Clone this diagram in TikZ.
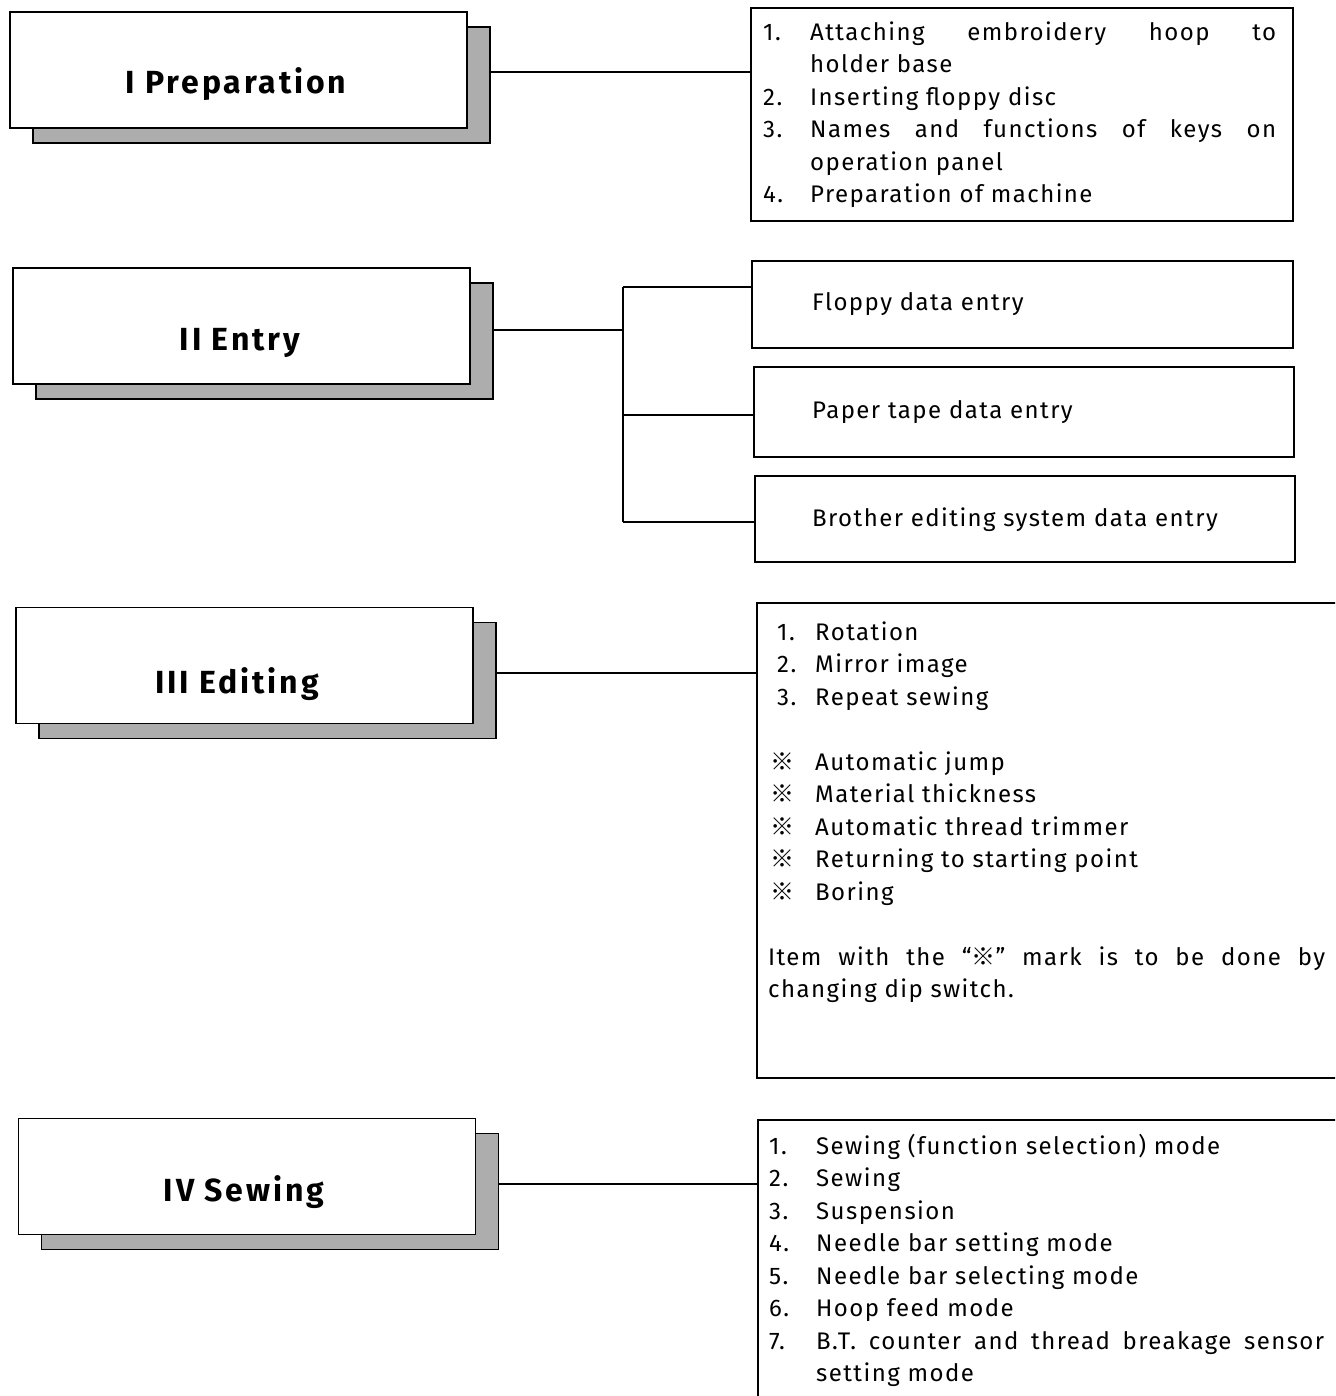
\documentclass[tikz,border=0pt]{standalone}
\usepackage{fontspec}
\setmainfont{Fira Sans}[LetterSpace=6]
\newfontfamily\titlefont{Fira Sans}[LetterSpace=9]
\newfontfamily\refmark{Noto Sans CJK JP}
\usetikzlibrary{shadows}
\begin{document}
\begin{tikzpicture}[x=1pt,y=-1pt,
  titlebox/.style={draw, fill=white, line width=1.6pt, inner sep=0,
    minimum width=457pt, minimum height=116pt,
    drop shadow={shadow xshift=23pt, shadow yshift=-15pt, fill=black!32,
      draw=black, line width=1.2pt, opacity=1}},
  titletext/.style={inner sep=0, anchor=base, font=\titlefont\fontsize{32}{38}\selectfont\bfseries},
  rbox/.style={draw, line width=1.6pt, inner sep=0},
  openbox/.style={inner sep=0},
  listtext/.style={inner sep=0, anchor=north west, align=left,
    font=\fontsize{24}{32.5}\selectfont},
  onetext/.style={inner sep=0, anchor=base west, font=\fontsize{24}{28}\selectfont},
  conn/.style={line width=1.3pt}]
\useasboundingbox (0,0) rectangle (1335,1396);
\clip (0,0) rectangle (1335,1396);

% right-hand boxes
\node[rbox, minimum width=542pt, minimum height=213pt] (r1) at (1022,114.5) {};
\node[rbox, minimum width=541pt, minimum height=87pt] (r2) at (1022.5,304.5) {};
\node[rbox, minimum width=540pt, minimum height=90pt] (r3) at (1024,412) {};
\node[rbox, minimum width=540pt, minimum height=86pt] (r4) at (1025,519) {};
\node[openbox, minimum width=590pt, minimum height=475pt] (r5) at (1052,840.5) {};
\draw[line width=1.6pt] (r5.north east) -- (r5.north west) -- (r5.south west) -- (r5.south east);
\node[openbox, minimum width=590pt, minimum height=290pt] (r6) at (1053,1265) {};
\draw[line width=1.6pt] (r6.north east) -- (r6.north west) -- (r6.south west);

% title boxes
\node[titlebox] (t1) at (238.5,70) {};
\node[titlebox] (t2) at (241.5,326) {};
\node[titlebox] (t3) at (244.5,665.5) {};
\node[titlebox] (t4) at (247,1176.5) {};
\node[titletext] (t1l) at (236,94) {I Preparation};
\node[titletext] (t2l) at (240,350.5) {II Entry};
\node[titletext] (t3l) at (237,693.5) {III Editing};
\node[titletext] (t4l) at (244,1201.5) {IV Sewing};

% connectors
\draw[conn] ([xshift=23pt,yshift=-2pt]t1.east) -- ([yshift=-2pt]t1.east -| r1.west);
\coordinate (ja) at (623,287);
\coordinate (jb) at (623,415);
\coordinate (jc) at (623,522);
\coordinate (jm) at (623,330);
\draw[conn] ([xshift=23pt]t2.east |- jm) -- (jm);
\draw[conn] (ja) -- (jc);
\draw[conn] (ja) -- (ja -| r2.west);
\draw[conn] (jb) -- (jb -| r3.west);
\draw[conn] (jc) -- (jc -| r4.west);
\draw[conn] ([xshift=23pt,yshift=-7.5pt]t3.east) -- ([yshift=-7.5pt]t3.east -| r5.west);
\draw[conn] ([xshift=23pt,yshift=-7.5pt]t4.east) -- ([yshift=-7.5pt]t4.east -| r6.west);

% texts
\node[listtext] (r1t) at (763,20) {%
\rule{0pt}{20pt}\makebox[47pt][l]{1.}\makebox[466pt][s]{Attaching embroidery hoop to}\\
\hspace*{47pt}holder base\\
\makebox[47pt][l]{2.}Inserting floppy disc\\
\makebox[47pt][l]{3.}\makebox[466pt][s]{Names and functions of keys on}\\
\hspace*{47pt}operation panel\\
\makebox[47pt][l]{4.}Preparation of machine};

\node[onetext] (r2t) at (812,310) {Floppy data entry};
\node[onetext] (r3t) at (812,418) {Paper tape data entry};
\node[onetext] (r4t) at (812,526) {Brother editing system data entry};

\node[listtext] (r5t) at (768,620) {%
\rule{0pt}{20pt}\hspace*{9pt}\makebox[38pt][l]{1.}Rotation\\
\hspace*{9pt}\makebox[38pt][l]{2.}Mirror image\\
\hspace*{9pt}\makebox[38pt][l]{3.}Repeat sewing\\[32.5pt]
\hspace*{2pt}\makebox[45pt][l]{\refmark ※}Automatic jump\\
\hspace*{2pt}\makebox[45pt][l]{\refmark ※}Material thickness\\
\hspace*{2pt}\makebox[45pt][l]{\refmark ※}Automatic thread trimmer\\
\hspace*{2pt}\makebox[45pt][l]{\refmark ※}Returning to starting point\\
\hspace*{2pt}\makebox[45pt][l]{\refmark ※}Boring\\[32.5pt]
\makebox[557pt][s]{Item with the “{\refmark ※}” mark is to be done by}\\
changing dip switch.};

\node[listtext] (r6t) at (769,1134) {%
\rule{0pt}{20pt}\makebox[47pt][l]{1.}Sewing (function selection) mode\\
\makebox[47pt][l]{2.}Sewing\\
\makebox[47pt][l]{3.}Suspension\\
\makebox[47pt][l]{4.}Needle bar setting mode\\
\makebox[47pt][l]{5.}Needle bar selecting mode\\
\makebox[47pt][l]{6.}Hoop feed mode\\
\makebox[47pt][l]{7.}\makebox[508pt][s]{B.T. counter and thread breakage sensor}\\
\hspace*{47pt}setting mode};
\end{tikzpicture}
\end{document}
